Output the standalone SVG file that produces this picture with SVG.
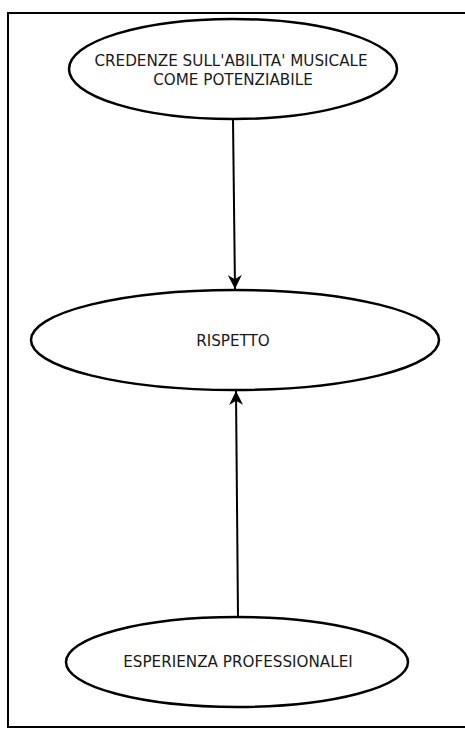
<svg xmlns="http://www.w3.org/2000/svg" width="465" height="729" viewBox="0 0 465 729">
<style>
.node ellipse{fill:#fff;stroke:#000;stroke-width:2.5}
.node text{font-family:"DejaVu Sans",sans-serif;font-size:15.2px;fill:#1a1a1a;text-anchor:middle}
.edge{stroke:#000;stroke-width:2;fill:none}
</style>
<defs>
<marker id="arr" viewBox="0 0 10 10" refX="10" refY="5" markerWidth="7" markerHeight="7" orient="auto" markerUnits="strokeWidth">
<path d="M0,0 L10,5 L0,10 L3,5 z" fill="#000"/>
</marker>
</defs>
<rect x="0" y="0" width="465" height="729" fill="#fff"/>
<rect x="8" y="13" width="458" height="714" fill="none" stroke="#000" stroke-width="2"/>
<g id="connectors">
<line class="edge" x1="233" y1="120" x2="235" y2="289" marker-end="url(#arr)"/>
<line class="edge" x1="238" y1="617" x2="236" y2="391" marker-end="url(#arr)"/>
</g>
<g id="n1" class="node">
<ellipse cx="233" cy="69" rx="164" ry="50"/>
<text x="231" y="66">CREDENZE SULL'ABILITA' MUSICALE</text>
<text x="233" y="85">COME POTENZIABILE</text>
</g>
<g id="n2" class="node">
<ellipse cx="235" cy="340" rx="204" ry="50"/>
<text x="233" y="346">RISPETTO</text>
</g>
<g id="n3" class="node">
<ellipse cx="237" cy="662" rx="171" ry="45"/>
<text x="238" y="667">ESPERIENZA PROFESSIONALEI</text>
</g>
</svg>
